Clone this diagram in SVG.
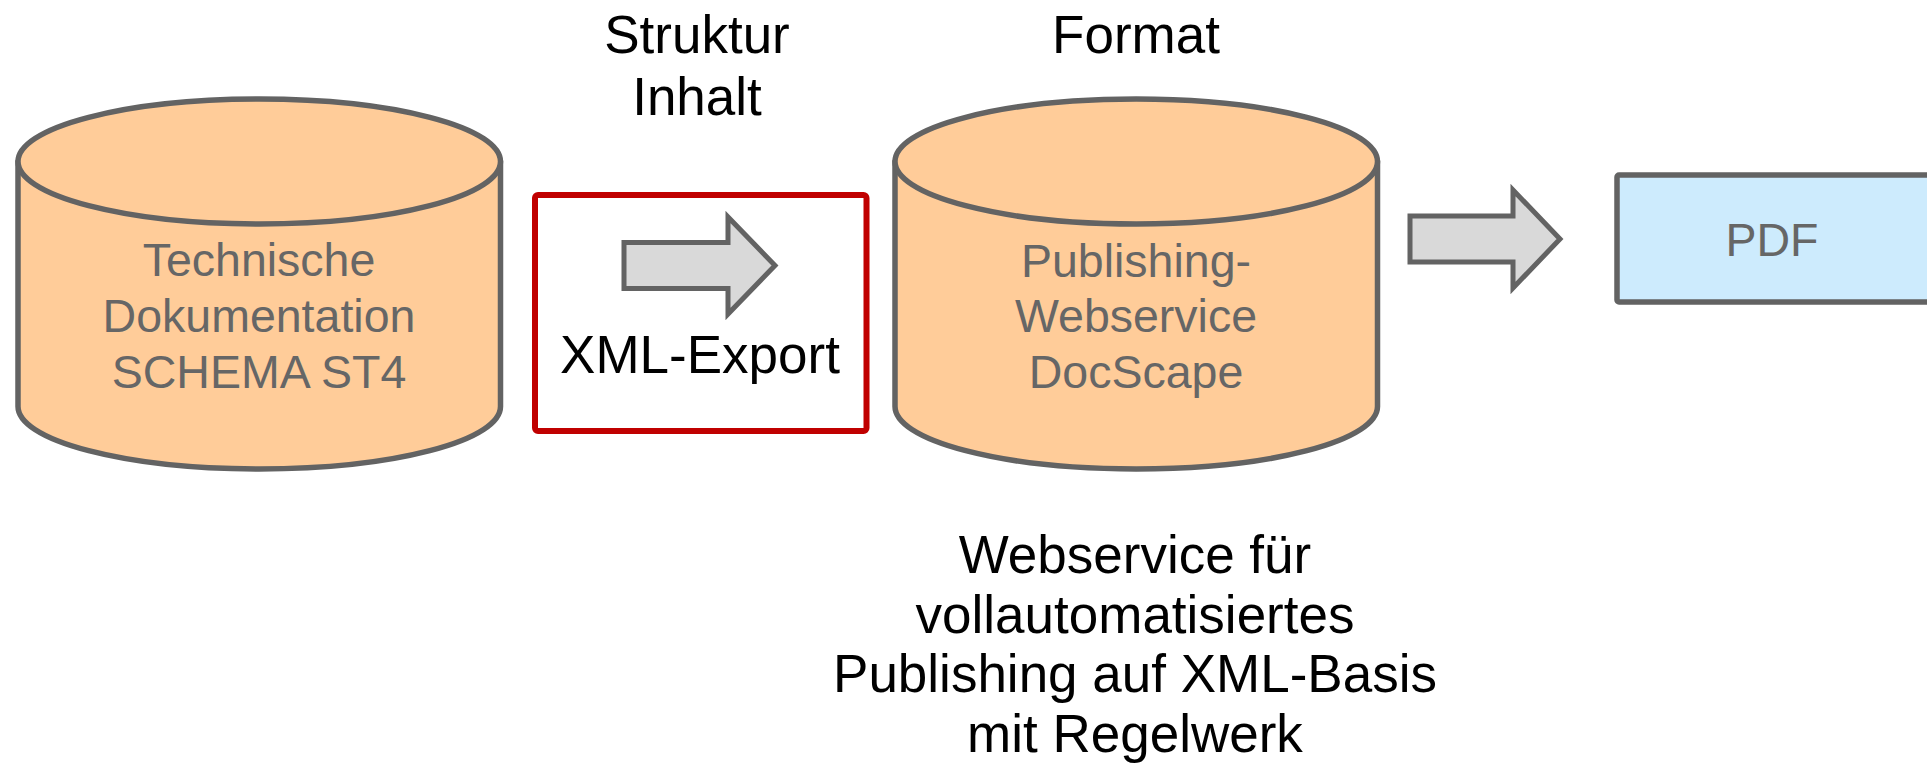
<svg xmlns="http://www.w3.org/2000/svg" width="1927" height="770" viewBox="0 0 1927 770">
  <style>
    .cyl { fill: #ffcc99; stroke: #636363; stroke-width: 5.5; stroke-linejoin: round; }
    .grey { font-family: "Liberation Sans", Arial, sans-serif; font-size: 46.5px; fill: #666666; text-anchor: middle; }
    .black { font-family: "Liberation Sans", Arial, sans-serif; font-size: 53px; fill: #000000; text-anchor: middle; }
    .blk { fill: #d9d9d9; stroke: #636363; stroke-width: 5; stroke-linejoin: miter; }
  </style>
  <rect width="1927" height="770" fill="#ffffff"/>

  <g id="label-struktur">
    <text class="black" x="697" y="53">Struktur</text>
    <text class="black" x="697" y="115">Inhalt</text>
  </g>
  <g id="label-format">
    <text class="black" x="1136" y="53">Format</text>
  </g>

  <g id="node-st4">
    <path class="cyl" d="M18,161.5 V406.5 A241.25,62.5 0 0 0 500.5,406.5 V161.5 Z"/>
    <ellipse class="cyl" cx="259.25" cy="161.5" rx="241.25" ry="62.5"/>
    <text class="grey" x="259" y="276">Technische</text>
    <text class="grey" x="259" y="332">Dokumentation</text>
    <text class="grey" x="259" y="388">SCHEMA ST4</text>
  </g>

  <g id="node-xml-export">
    <rect x="535" y="195" width="331.5" height="236" rx="3" fill="none" stroke="#c00000" stroke-width="6"/>
    <text class="black" x="700" y="373">XML-Export</text>
  </g>

  <g id="node-docscape">
    <path class="cyl" d="M895,161.5 V406.5 A241.25,62.5 0 0 0 1377.5,406.5 V161.5 Z"/>
    <ellipse class="cyl" cx="1136.25" cy="161.5" rx="241.25" ry="62.5"/>
    <text class="grey" x="1136" y="277">Publishing-</text>
    <text class="grey" x="1136" y="332">Webservice</text>
    <text class="grey" x="1136" y="388">DocScape</text>
  </g>

  <g id="node-pdf">
    <rect x="1617" y="175" width="330" height="127" rx="2" fill="#cdebfd" stroke="#636363" stroke-width="5.5"/>
    <text class="grey" x="1772" y="256">PDF</text>
  </g>

  <g id="label-webservice">
    <text class="black" x="1135" y="573">Webservice für</text>
    <text class="black" x="1135" y="633">vollautomatisiertes</text>
    <text class="black" x="1135" y="692">Publishing auf XML-Basis</text>
    <text class="black" x="1135" y="752">mit Regelwerk</text>
  </g>

  <g id="connectors">
    <path class="blk" d="M624,242.5 H728 V217 L775,265.5 L728,314 V288.5 H624 Z"/>
    <path class="blk" d="M1410,216 H1513 V190 L1560,239 L1513,288 V262 H1410 Z"/>
  </g>
</svg>
